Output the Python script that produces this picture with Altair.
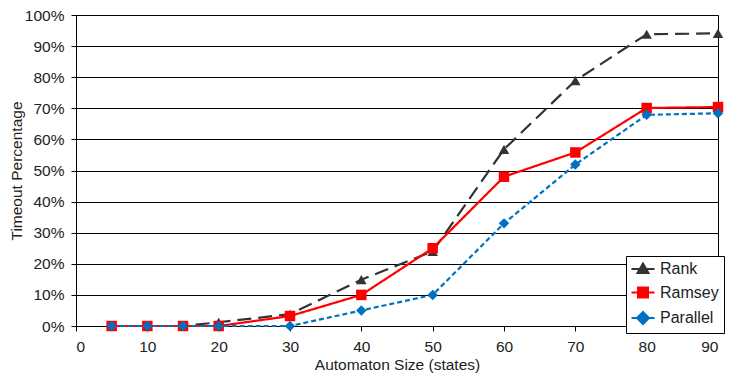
import altair as alt
import pandas as pd

sizes = [5, 10, 15, 20, 30, 40, 50, 60, 70, 80, 90]
rank = [0, 0, 0, 1.2, 3.8, 14.9, 24, 56.8, 78.9, 93.8, 94.1]
ramsey = [0, 0, 0, 0, 3.2, 10, 25, 48, 55.8, 70.1, 70.4]
parallel = [0, 0, 0, 0, 0, 5, 10, 33, 51.9, 67.9, 68.4]
series = ["Rank", "Ramsey", "Parallel"]
colors = ["#333333", "#FF0000", "#0070C0"]
shapes = ["triangle-up", "square", "diamond"]
dashes = [[14, 7], [1, 0], [5, 3]]
legend_shapes = [
    "M-2.3,0H2.3M0,-1.1L1.1,0.8H-1.1Z",
    "M-2.3,0H2.3M-1,-1H1V1H-1Z",
    "M-2.3,0H2.3M0,-1.2L1.2,0L0,1.2L-1.2,0Z",
]

rows = []
for name, vals in zip(series, [rank, ramsey, parallel]):
    for s, v in zip(sizes, vals):
        rows.append({"size": s, "pct": v / 100.0, "series": name})
df = pd.DataFrame(rows)

font = "Liberation Sans"
txt = "#222222"
x = alt.X("size:Q", scale=alt.Scale(domain=[0, 90], nice=False),
          axis=alt.Axis(values=list(range(0, 91, 10)), title="Automaton Size (states)",
                        grid=False, domainColor="black", tickColor="black", tickSize=5,
                        labelFont=font, titleFont=font, labelFontSize=15.5, titleFontSize=15.5,
                        labelColor=txt, titleColor=txt, titleFontWeight="normal",
                        labelPadding=8, titlePadding=3))
y = alt.Y("pct:Q", scale=alt.Scale(domain=[0, 1], nice=False),
          axis=alt.Axis(values=[i / 10 for i in range(11)], format=".0%", title="Timeout Percentage",
                        grid=True, gridColor="black", gridWidth=1, domainColor="black",
                        tickColor="black", tickSize=5, labelFont=font, titleFont=font,
                        labelFontSize=15.5, titleFontSize=15.5, labelColor=txt,
                        titleColor=txt, titleFontWeight="normal", labelPadding=7,
                        titlePadding=0))

def cscale():
    return alt.Scale(domain=series, range=colors)

lines = alt.Chart(df).mark_line(strokeWidth=2.2).encode(
    x=x, y=y, color=alt.Color("series:N", scale=cscale(), legend=None),
    strokeDash=alt.StrokeDash("series:N", scale=alt.Scale(domain=series, range=dashes), legend=None),
    detail="series:N")

points = alt.Chart(df).mark_point(filled=True, opacity=1, size=110).encode(
    x=x, y=y, color=alt.Color("series:N", scale=cscale(), legend=None),
    shape=alt.Shape("series:N", scale=alt.Scale(domain=series, range=shapes), legend=None))

leg = alt.Legend(title=None, orient="none", legendX=550, legendY=241,
                 strokeColor="black", fillColor="white", padding=5,
                 labelFont=font, labelFontSize=16, labelColor=txt, labelOffset=9,
                 symbolOffset=4, symbolSize=100, rowPadding=6.5, symbolStrokeWidth=2,
                 offset=0)
legend_layer = alt.Chart(df).transform_filter("datum.size < 0").mark_point(
    filled=True, opacity=1, size=100).encode(
    x=x, y=y,
    color=alt.Color("series:N", scale=cscale(), legend=leg),
    stroke=alt.Stroke("series:N", scale=cscale(), legend=leg),
    shape=alt.Shape("series:N", scale=alt.Scale(domain=series, range=legend_shapes), legend=leg))

chart = alt.layer(lines, points, legend_layer).resolve_scale(
    color="independent", shape="independent", stroke="independent"
).properties(
    width=642, height=311, autosize=alt.AutoSizeParams(type="none"),
    padding={"left": 68, "top": 7, "right": 9, "bottom": 50}
).configure_view(stroke="black", strokeWidth=1)

chart.save("out.html", embed_options={"renderer": "svg", "actions": False})
